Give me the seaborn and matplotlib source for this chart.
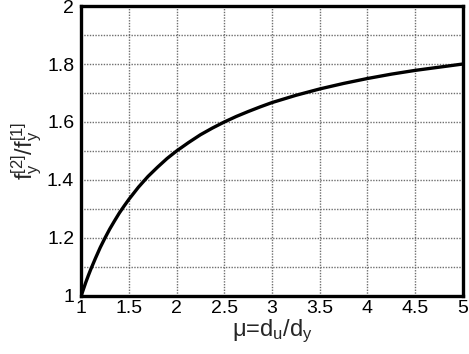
import matplotlib
matplotlib.use("Agg")
import matplotlib.pyplot as plt
import seaborn as sns
import pandas as pd
import numpy as np

# values
mu = [1.0, 1.025, 1.05, 1.075, 1.1, 1.15, 1.2, 1.25, 1.3, 1.35, 1.4, 1.45, 1.5, 1.6, 1.7, 1.8,
      1.9, 2.0, 2.125, 2.25, 2.375, 2.5, 2.625, 2.75, 2.875, 3.0, 3.25, 3.5, 3.75, 4.0, 4.25,
      4.5, 4.75, 5.0]
ratio = [1.0, 1.024, 1.048, 1.07, 1.091, 1.13, 1.167, 1.2, 1.231, 1.259, 1.286, 1.31, 1.333,
         1.375, 1.412, 1.444, 1.474, 1.5, 1.529, 1.556, 1.579, 1.6, 1.619, 1.636, 1.652, 1.667,
         1.692, 1.714, 1.733, 1.75, 1.765, 1.778, 1.789, 1.8]

x_ticks = [1, 1.5, 2, 2.5, 3, 3.5, 4, 4.5, 5]
y_ticks = [1, 1.2, 1.4, 1.6, 1.8, 2]
x_tick_labels = ["1", "1.5", "2", "2.5", "3", "3.5", "4", "4.5", "5"]
y_tick_labels = ["1", "1.2", "1.4", "1.6", "1.8", "2"]

sns.set_theme(style="white")
plt.rcParams['font.family'] = ['Liberation Sans', 'DejaVu Sans']
plt.rcParams['mathtext.fontset'] = 'custom'
plt.rcParams['mathtext.rm'] = 'Liberation Sans'
plt.rcParams['mathtext.it'] = 'Liberation Sans'

df = pd.DataFrame({"mu": mu, "ratio": ratio})

fig = plt.figure(figsize=(4.69, 3.54), dpi=100)
ax = fig.add_axes([0.173, 0.164, 0.814, 0.819])

sns.lineplot(data=df, x="mu", y="ratio", ax=ax, color="black", linewidth=2.4)

ax.set_xlim(1, 5)
ax.set_ylim(1, 2)
ax.set_xticks(x_ticks)
ax.set_xticklabels(x_tick_labels)
ax.set_yticks(y_ticks)
ax.set_yticklabels(y_tick_labels)
ax.set_xticks(np.arange(1, 5.01, 0.5), minor=True)
ax.set_yticks(np.arange(1, 2.01, 0.1), minor=True)
ax.grid(True, which="both", color="#6f6f6f", linestyle=(0, (1, 1)), linewidth=1.0)
ax.tick_params(axis="both", which="both", length=0, labelsize=14, colors="black")
ax.tick_params(axis="x", pad=3)
ax.tick_params(axis="y", pad=5)

for s in ax.spines.values():
    s.set_color("black")
    s.set_linewidth(2.4)

ax.set_xlabel("μ=d$_\\mathregular{u}$/d$_\\mathregular{y}$", fontsize=17, labelpad=0)
ax.set_ylabel(r"$\mathregular{f_y^{[2]}/f_y^{[1]}}$", fontsize=17, labelpad=2)

fig.savefig("out.png", dpi=100)
